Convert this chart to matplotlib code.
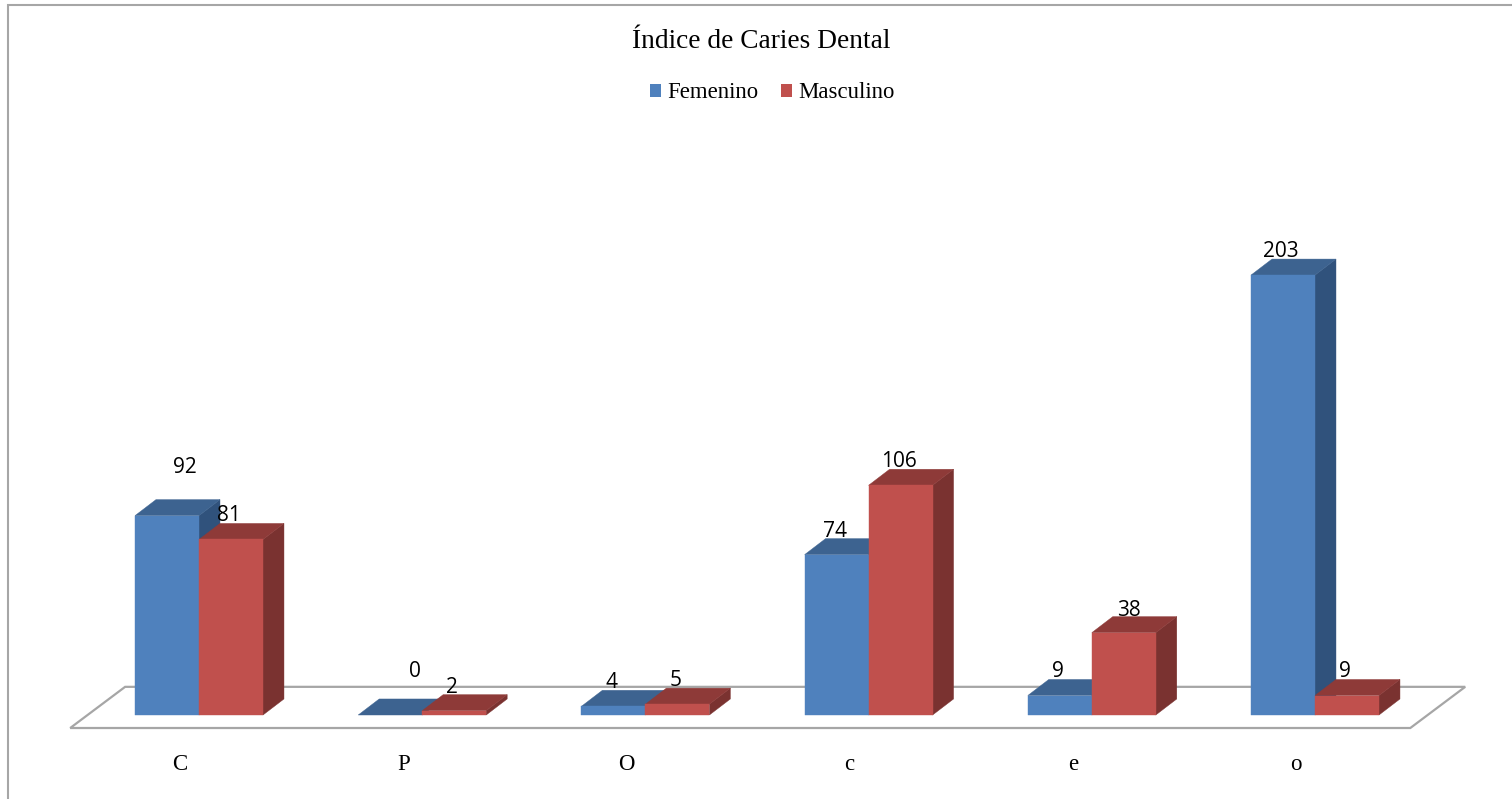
import matplotlib
matplotlib.use("Agg")
import matplotlib.pyplot as plt
from matplotlib.patches import Polygon, Rectangle

categories = ["C", "P", "O", "c", "e", "o"]
femenino = [92, 0, 4, 74, 9, 203]
masculino = [81, 2, 5, 106, 38, 9]

BLUE = ("#4f81bd", "#3d6390", "#30527c")
RED = ("#c0504d", "#8e3a38", "#7a3230")
GRID = "#a6a6a6"

bar_w = 0.2867
depth_x = 0.094
depth_y = 7.4

# label nudges in points, the default sits just above the front face
default_off = (-1.5, 17)
off_f = {0: (13, 35), 1: (18, 31)}
off_m = {4: (3.5, 16)}

fig = plt.figure(figsize=(15.12, 7.99), dpi=100)
ax = fig.add_axes([0, 0, 1, 1])
ax.set_xlim(-0.8916, 5.8826)
ax.set_ylim(-38.76, 329.95)
ax.axis("off")

# outer frame of the chart area
ax.add_patch(Rectangle((8 / 1512, -0.01), 1.1, 1.01 - 5 / 799, transform=ax.transAxes,
                       fill=False, ec=GRID, lw=1.5, clip_on=True, zorder=1))

# floor
n = len(categories)
ax.add_patch(Polygon([(-0.577, -6), (5.427, -6), (5.673, 13), (-0.331, 13)],
                     closed=True, fc="white", ec=GRID, lw=1.6, joinstyle="miter", zorder=2))


def box(x, h, colors, z):
    front, top, side = colors
    ax.add_patch(Polygon([(x + bar_w, 0), (x + bar_w + depth_x, depth_y),
                          (x + bar_w + depth_x, h + depth_y), (x + bar_w, h)],
                         closed=True, fc=side, ec=side, lw=0.3, zorder=z))
    ax.add_patch(Polygon([(x, h), (x + bar_w, h), (x + bar_w + depth_x, h + depth_y),
                          (x + depth_x, h + depth_y)],
                         closed=True, fc=top, ec=top, lw=0.3, zorder=z))
    if h > 0:
        ax.add_patch(Rectangle((x, 0), bar_w, h, fc=front, ec=front, lw=0.3, zorder=z))


for i in range(n):
    box(i - bar_w, femenino[i], BLUE, 3 + i * 0.1)
    box(i, masculino[i], RED, 3.05 + i * 0.1)

    ax.annotate(str(femenino[i]), (i - bar_w / 2, femenino[i]),
                xytext=off_f.get(i, default_off), textcoords="offset points",
                ha="center", va="center", family="Open Sans", fontsize=15, zorder=6)
    ax.annotate(str(masculino[i]), (i + bar_w / 2, masculino[i]),
                xytext=off_m.get(i, default_off), textcoords="offset points",
                ha="center", va="center", family="Open Sans", fontsize=15, zorder=6)

    ax.text(i - 0.085, -22.8, categories[i], ha="center", va="center",
            family="Liberation Serif", fontsize=16.5)

ax.text(0.5035, 1 - 41.5 / 799, "Índice de Caries Dental", transform=ax.transAxes,
        ha="center", va="center", family="Liberation Serif", fontsize=19.7)

handles = [Rectangle((0, 0), 1, 1, fc=BLUE[0]), Rectangle((0, 0), 1, 1, fc=RED[0])]
ax.legend(handles, ["Femenino", "Masculino"], ncol=2, frameon=False,
          loc="center", bbox_to_anchor=(772 / 1512, 1 - 93 / 799),
          prop={"family": "Liberation Serif", "size": 16.4},
          handlelength=0.5, handleheight=0.5, handletextpad=0.25, columnspacing=1.0)

fig.savefig("out.png", dpi=100)
